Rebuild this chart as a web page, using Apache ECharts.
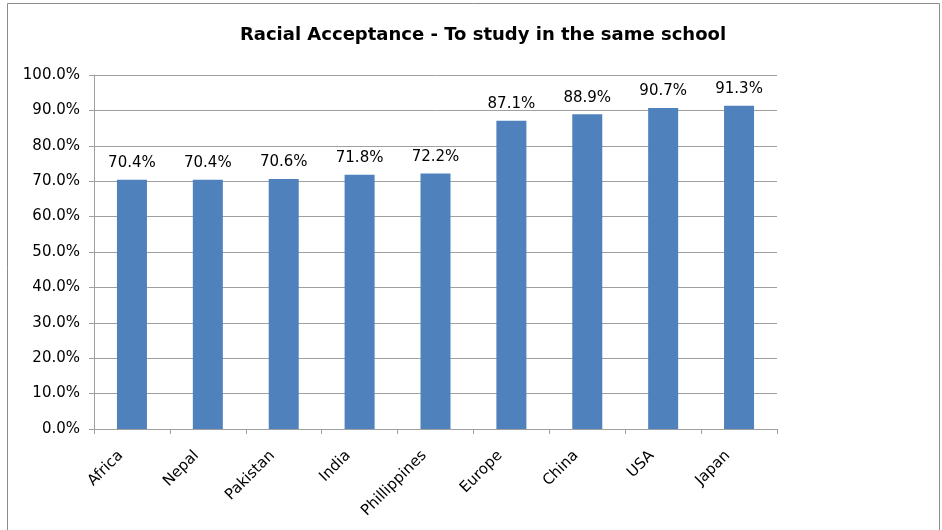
<!DOCTYPE html>
<html><head><meta charset="utf-8">
<script src="https://cdn.jsdelivr.net/npm/echarts@6/dist/echarts.min.js"></script>
<style>html,body{margin:0;padding:0;background:#fff}#c{width:942px;height:530px}</style>
</head><body><div id="c"></div>
<script>
var categories = ['Africa','Nepal','Pakistan','India','Phillippines','Europe','China','USA','Japan'];
var values = [70.4, 70.4, 70.6, 71.8, 72.2, 87.1, 88.9, 90.7, 91.3];
var titleText = 'Racial Acceptance - To study in the same school';
var FONT = '"DejaVu Sans", Verdana, sans-serif';
var chart = echarts.init(document.getElementById('c'), null, {renderer:'canvas'});
chart.setOption({
  animation: false,
  backgroundColor: '#fff',
  graphic: [{type:'rect', shape:{x:7.5,y:3.5,width:932,height:540}, style:{fill:'none', stroke:'#8c8c8c', lineWidth:1}, silent:true}],
  title: {text: titleText, left: 478, top: 21, textAlign: 'center',
    textStyle: {fontFamily: FONT, fontSize: 18, fontWeight: 'bold', color: '#000'}},
  grid: {left: 94, right: 165, top: 75, bottom: 101, containLabel: false},
  xAxis: {type: 'category', data: categories,
    axisLine: {lineStyle: {color: '#a0a0a0', width: 1}},
    axisTick: {show: true, alignWithLabel: false, length: 5, lineStyle: {color: '#a0a0a0'}},
    axisLabel: {rotate: 45, margin: 13, padding: [0, 16, 0, 0], fontFamily: FONT, fontSize: 15, color: '#000', interval: 0}},
  yAxis: {type: 'value', min: 0, max: 100, interval: 10,
    axisLine: {show: true, lineStyle: {color: '#a0a0a0'}},
    axisTick: {show: true, length: 5, lineStyle: {color: '#a0a0a0'}},
    splitLine: {lineStyle: {color: '#a0a0a0', width: 1}},
    axisLabel: {margin: 14, fontFamily: FONT, fontSize: 15, color: '#000',
      formatter: function(v){return v.toFixed(1)+'%';}}},
  series: [{type: 'bar', data: values, barWidth: 30,
    itemStyle: {color: '#4f81bd'},
    label: {show: true, position: 'top', distance: 9, fontFamily: FONT, fontSize: 15, color: '#000',
      formatter: function(p){return p.value.toFixed(1)+'%';}}}]
});
</script></body></html>
